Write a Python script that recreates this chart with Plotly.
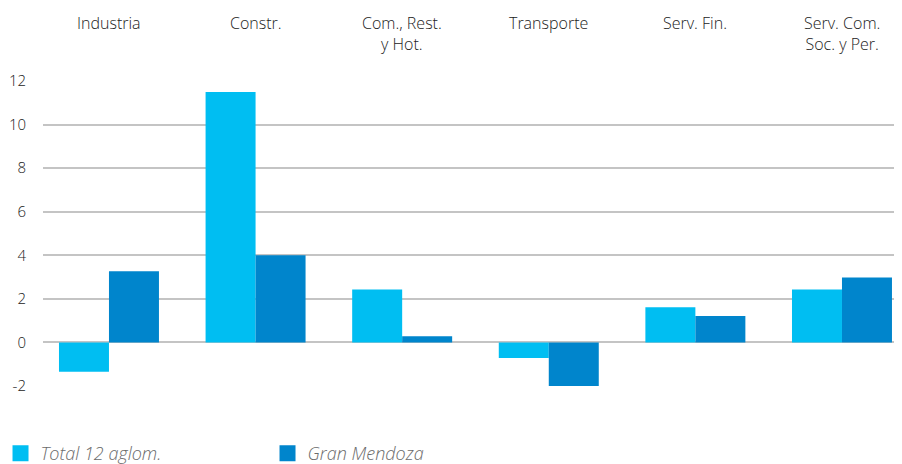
import plotly.graph_objects as go

categories = ["Industria", "Constr.", "Com., Rest.<br>y Hot.", "Transporte", "Serv. Fin.", "Serv. Com.<br>Soc. y Per."]
total_12 = [-1.35, 11.5, 2.43, -0.72, 1.62, 2.43]
gran_mendoza = [3.27, 4.0, 0.28, -2.0, 1.21, 2.98]
series_names = ["Total 12 aglom.", "Gran Mendoza"]
colors = ["#00bef2", "#0085cc"]
y_ticks = [-2, 0, 2, 4, 6, 8, 10, 12]
y_tick_labels = ["-2", "0", "2", "4", "6", "8", "10", "12"]

fig = go.Figure()
for name, vals, col in zip(series_names, [total_12, gran_mendoza], colors):
    fig.add_trace(go.Bar(x=categories, y=vals, name=name, marker_color=col,
                         marker_line_width=0, showlegend=False))
for name, col in zip(series_names, colors):
    fig.add_trace(go.Scatter(x=[None], y=[None], mode="markers", name=name,
                             marker=dict(symbol="square", size=17, color=col)))

for c in categories:
    fig.add_annotation(x=c, xref="x", y=1, yref="paper", yanchor="top", yshift=71,
                       text=c, showarrow=False, align="center",
                       font=dict(family="Open Sans", size=16, color="#222222", weight=300))

fig.update_layout(
    width=902, height=464,
    margin=dict(l=35, r=0, t=73, b=86, autoexpand=False),
    paper_bgcolor="white", plot_bgcolor="white",
    barmode="group", bargap=0.318, bargroupgap=0,
    font=dict(family="Open Sans", size=15, color="#222222", weight=300),
    legend=dict(orientation="h", x=-0.049, xanchor="left", y=-0.161, yanchor="top",
                itemsizing="trace", entrywidth=222,
                font=dict(family="Open Sans", size=18, color="#6b6b6b", style="italic", weight=300),
                bgcolor="rgba(0,0,0,0)"),
    xaxis=dict(showticklabels=False, showgrid=False, zeroline=False, showline=False,
               range=[-0.45, 5.464], automargin=False),
    yaxis=dict(range=[-2, 12], tickvals=y_ticks, ticktext=y_tick_labels, showgrid=True,
               gridcolor="#c4c4c4", gridwidth=1.5, zeroline=False, showline=False, ticks="",
               automargin=False, ticklabelstandoff=16,
               tickfont=dict(size=15, color="#222222", weight=300)),
)
fig.write_html("out.html")
